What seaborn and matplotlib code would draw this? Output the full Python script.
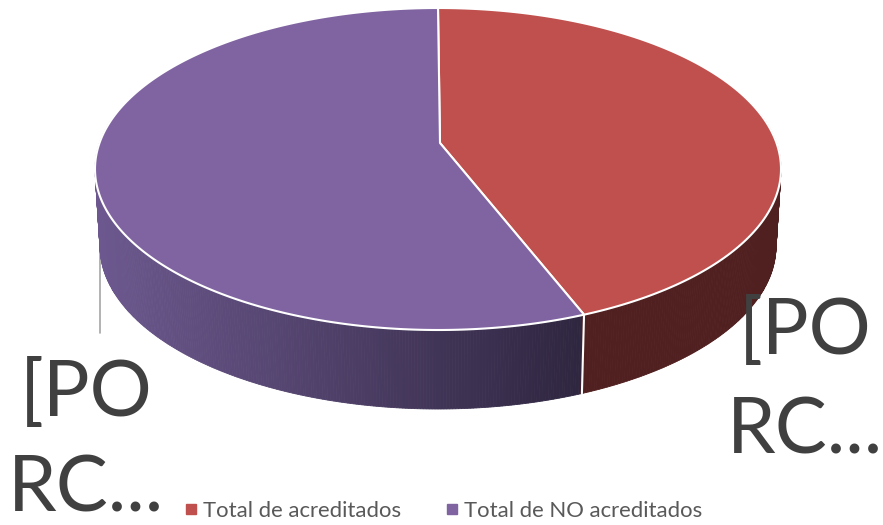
import numpy as np
import seaborn as sns
import matplotlib.pyplot as plt
from matplotlib.patches import Polygon
from matplotlib.lines import Line2D

categories = ['Total de acreditados', 'Total de NO acreditados']
values = [43, 57]
labels = ['[PO\nRC...', '[PO\nRC...']
top_colors = ['#C0504D', '#8064A2']

sns.set_theme(style="white")
plt.rcParams['font.family'] = ['Lato', 'DejaVu Sans']

W, H = 883, 525
fig = plt.figure(figsize=(W / 100, H / 100), dpi=100)
ax = fig.add_axes([0, 0, 1, 1])
ax.set_xlim(0, W)
ax.set_ylim(H, 0)
ax.axis('off')

# geometry of the tilted pie (pixel units)
cx, cy, a, b = 438, 169, 343, 161          # top face ellipse
cx2, cy2, a2, b2 = 438, 246, 338, 163      # bottom face ellipse
pcx, pcy = 440, 143                        # projected centre of the top face


def top_pt(t):
    t = np.radians(t)
    return cx + a * np.cos(t), cy - b * np.sin(t)


def bot_pt(t):
    t = np.radians(t)
    return cx2 + a2 * np.cos(t), cy2 - b2 * np.sin(t)


# slice angles, clockwise from the top
total = sum(values)
bounds = [90.0]
for v in values:
    bounds.append(bounds[-1] - 360.0 * v / total)
split = bounds[1]


def slice_of(t):
    tt = t
    while tt > 90:
        tt -= 360
    while tt <= -270:
        tt += 360
    return 0 if tt >= split else 1


def side_color(t, x):
    if slice_of(t) == 0:
        return np.array([80, 31, 31]) / 255
    f = np.clip((x - 100) / 480, 0, 1)
    c0 = np.array([108, 88, 142])
    c1 = np.array([47, 38, 64])
    return (c0 + (c1 - c0) * f) / 255


# side wall drawn as thin strips
step = 0.5
for t in np.arange(-200, 20, step):
    p1, p2 = top_pt(t), top_pt(t + step)
    q1, q2 = bot_pt(t), bot_pt(t + step)
    col = side_color(t + step / 2, (p1[0] + p2[0]) / 2)
    ax.add_patch(Polygon([p1, p2, q2, q1], closed=True, facecolor=col,
                         edgecolor=col, lw=0.6, zorder=1))

# white seam on the side at the slice split
sx, sy = top_pt(split)
bx, by = bot_pt(split)
ax.plot([sx, bx], [sy, by], color='white', lw=1.5, zorder=2)

# top face wedges
for i in range(len(values)):
    ts = np.linspace(bounds[i], bounds[i + 1], 300)
    pts = [(pcx, pcy)] + [top_pt(t) for t in ts]
    ax.add_patch(Polygon(pts, closed=True, facecolor=top_colors[i],
                         edgecolor='white', lw=1.5, joinstyle='round', zorder=3))

# data labels (each line placed on its own baseline)
ax.plot([100, 100], [248, 333], color='#A6A6A6', lw=1.2, zorder=0)
label_pos = [(805, [354, 453]), (86, [416, 511])]
for lab, (lx, ys) in zip(labels, label_pos):
    for line, ly in zip(lab.split('\n'), ys):
        ax.text(lx, ly, line, ha='center', va='baseline', fontsize=56,
                color='#404040')

# legend
handles = [Line2D([], [], marker='s', ls='', color=c, markersize=6.5) for c in top_colors]
ax.legend(handles, categories, loc='center', bbox_to_anchor=(443 / W, 1 - 511 / H),
          ncol=2, frameon=False, fontsize=15.9, handlelength=0.6, handletextpad=0.25,
          columnspacing=2.0, labelcolor='#595959')

plt.savefig('out.png', dpi=100)
